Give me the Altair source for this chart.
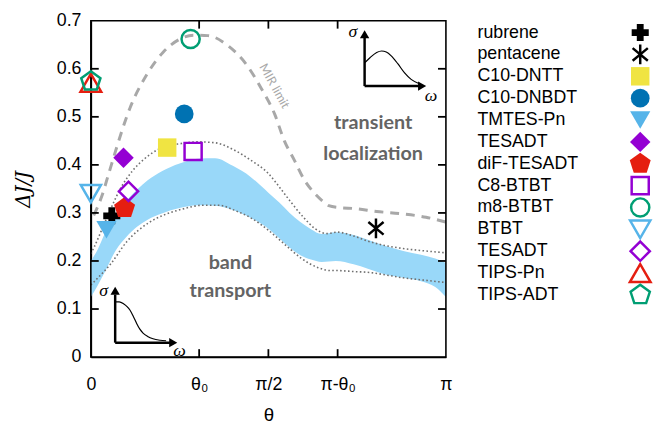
import altair as alt
import pandas as pd

# ---------------- axes (x is theta in units of pi) ----------------
x_tick_values = [0.0, 0.305, 0.5, 0.695, 1.0]
x_tick_labels = ["0", "θ₀", "π/2", "π-θ₀", "π"]
y_tick_values = [0.0, 0.1, 0.2, 0.3, 0.4, 0.5, 0.6, 0.7]
X_MIN, X_MAX, Y_MIN, Y_MAX = 0.0, 1.0, 0.0, 0.7

# ---------------- shaded band ----------------
band_t = [0.0, 0.02, 0.04, 0.07, 0.1, 0.13, 0.16, 0.2, 0.25, 0.3, 0.35, 0.4, 0.45, 0.5,
          0.53, 0.56, 0.59, 0.62, 0.65, 0.69, 0.74, 0.78, 0.83, 0.88, 0.93, 0.97, 1.0]
band_hi = [0.200, 0.225, 0.258, 0.295, 0.325, 0.348, 0.368, 0.387, 0.403, 0.413, 0.414, 0.398,
           0.375, 0.342, 0.322, 0.300, 0.281, 0.266, 0.256, 0.260, 0.254, 0.244, 0.231, 0.221,
           0.213, 0.205, 0.196]
band_lo = [0.125, 0.150, 0.178, 0.222, 0.250, 0.271, 0.286, 0.299, 0.310, 0.316, 0.315, 0.306,
           0.290, 0.267, 0.248, 0.228, 0.212, 0.203, 0.198, 0.200, 0.193, 0.184, 0.172, 0.165,
           0.158, 0.146, 0.125]

# ---------------- dotted bounds ----------------
dot_hi_t = [0.0, 0.01, 0.036, 0.06, 0.082, 0.119, 0.15, 0.184, 0.22, 0.25, 0.3, 0.35, 0.406,
            0.45, 0.5, 0.536, 0.564, 0.6, 0.63, 0.666, 0.694, 0.74, 0.786, 0.83, 0.879, 0.94, 1.0]
dot_hi_v = [0.215, 0.230, 0.274, 0.315, 0.349, 0.389, 0.412, 0.430, 0.440, 0.444, 0.448, 0.446,
            0.430, 0.410, 0.382, 0.349, 0.322, 0.290, 0.268, 0.257, 0.260, 0.252, 0.240, 0.232,
            0.226, 0.221, 0.217]
dot_lo_t = [0.0, 0.02, 0.055, 0.101, 0.166, 0.21, 0.258, 0.314, 0.36, 0.406, 0.45, 0.5, 0.55,
            0.592, 0.64, 0.675, 0.694, 0.74, 0.786, 0.83, 0.879, 0.94, 1.0]
dot_lo_v = [0.150, 0.165, 0.193, 0.240, 0.281, 0.297, 0.308, 0.316, 0.316, 0.305, 0.290, 0.264,
            0.232, 0.206, 0.186, 0.180, 0.180, 0.178, 0.176, 0.171, 0.165, 0.160, 0.155]

# ---------------- MIR limit (dashed) ----------------
mir_t = [0.008, 0.031, 0.05, 0.073, 0.11, 0.156, 0.203, 0.249, 0.29, 0.33, 0.388, 0.434, 0.48,
         0.518, 0.545, 0.573, 0.601, 0.625, 0.652, 0.67, 0.7, 0.744, 0.805, 0.879, 0.944, 1.0]
mir_v = [0.295, 0.335, 0.381, 0.437, 0.518, 0.586, 0.634, 0.661, 0.670, 0.669, 0.647, 0.613,
         0.559, 0.505, 0.450, 0.410, 0.369, 0.345, 0.325, 0.315, 0.311, 0.309, 0.303, 0.298,
         0.291, 0.281]

# ---------------- materials ----------------
names = ["rubrene", "pentacene", "C10-DNTT", "C10-DNBDT", "TMTES-Pn", "TESADT", "diF-TESADT",
         "C8-BTBT", "m8-BTBT", "BTBT", "TESADT", "TIPS-Pn", "TIPS-ADT"]
mat_t = [0.059, 0.803, 0.215, 0.263, 0.044, 0.092, 0.095, 0.288, 0.281, 0.0, 0.106, 0.0, 0.0]
mat_v = [0.294, 0.268, 0.436, 0.506, 0.265, 0.415, 0.310, 0.428, 0.662, 0.340, 0.345, 0.571, 0.574]

# ---------------- marker styles ----------------
PURPLE, GREEN, SKY, BLUE, YELLOW, RED = "#9400d3", "#009e73", "#56b4e9", "#0072b2", "#f0e442", "#e51e10"
PENT = "M0,-1L0.951,-0.309L0.588,0.809L-0.588,0.809L-0.951,-0.309Z"
AST = "M0,-1L0,1M-0.77,-0.64L0.77,0.64M-0.77,0.64L0.77,-0.64"
m_shape = ["cross", AST, "square", "circle", "triangle-down", "diamond", PENT,
           "square", "circle", "triangle-down", "diamond", "triangle-up", PENT]
m_color = ["black", "black", YELLOW, BLUE, SKY, PURPLE, RED, PURPLE, GREEN, SKY, PURPLE, RED, GREEN]
m_filled = [True, False, True, True, True, True, True, False, False, False, False, False, False]
m_size = [300, 400, 350, 360, 420, 430, 500, 300, 340, 420, 380, 440, 420]

# ---------------- annotations ----------------
region_text = ["transient", "localization", "band", "transport"]
region_t = [0.795, 0.795, 0.393, 0.393]
region_v = [0.488, 0.423, 0.196, 0.138]

# insets: sketch axes (segments) and curves, placed in data units
inset_axis_seg = ["a", "a", "b", "b", "c", "c", "d", "d"]
inset_axis_t = [0.771, 0.771, 0.771, 0.924, 0.0685, 0.0685, 0.0685, 0.224]
inset_axis_v = [0.564, 0.665, 0.564, 0.564, 0.030, 0.130, 0.030, 0.030]
arrow_t = [0.771, 0.933, 0.0685, 0.232]
arrow_v = [0.672, 0.564, 0.138, 0.030]
arrow_shape = ["triangle-up", "triangle-right", "triangle-up", "triangle-right"]
curve1_t = [0.772, 0.786, 0.805, 0.819, 0.832, 0.846, 0.865, 0.883, 0.902, 0.925]
curve1_v = [0.613, 0.623, 0.634, 0.637, 0.635, 0.627, 0.610, 0.592, 0.578, 0.569]
curve2_t = [0.0685, 0.08, 0.092, 0.102, 0.11, 0.12, 0.129, 0.138, 0.147, 0.16, 0.175, 0.195, 0.212]
curve2_v = [0.115, 0.115, 0.111, 0.105, 0.098, 0.084, 0.070, 0.058, 0.050, 0.043, 0.038, 0.035, 0.034]
greek_text = ["σ", "ω", "σ", "ω"]
greek_t = [0.738, 0.958, 0.036, 0.25]
greek_v = [0.676, 0.543, 0.138, 0.012]

W, H = 360, 341
TICK_PX = 8

# ---------------- build tables ----------------
x_label_expr = "'" + x_tick_labels[-1] + "'"
for val, lab in reversed(list(zip(x_tick_values[:-1], x_tick_labels[:-1]))):
    x_label_expr = f"abs(datum.value - {val}) < 0.01 ? '{lab}' : " + x_label_expr

band_df = pd.DataFrame({"t": band_t, "v": band_hi, "v2": band_lo})
dot_df = pd.concat([
    pd.DataFrame({"t": dot_hi_t, "v": dot_hi_v, "curve": "hi"}),
    pd.DataFrame({"t": dot_lo_t, "v": dot_lo_v, "curve": "lo"}),
])
mir_df = pd.DataFrame({"t": mir_t, "v": mir_v})

m_fill = [c if f else "transparent" for c, f in zip(m_color, m_filled)]
m_sw = [0 if f else 2.5 for f in m_filled]
mat_df = pd.DataFrame({"name": names, "t": mat_t, "v": mat_v, "shape": m_shape,
                       "fill": m_fill, "stroke": m_color, "sw": m_sw, "size": m_size,
                       "row": list(range(len(names)))})

# inward ticks as short segments (built from the tick lists)
dv = TICK_PX / H * (Y_MAX - Y_MIN)
dt = TICK_PX / W * (X_MAX - X_MIN)
tick_rows = []
for i, xv in enumerate(x_tick_values[1:-1]):
    tick_rows += [{"t": xv, "v": Y_MIN, "tk": f"b{i}", "o": 0}, {"t": xv, "v": Y_MIN + dv, "tk": f"b{i}", "o": 1},
                  {"t": xv, "v": Y_MAX, "tk": f"u{i}", "o": 0}, {"t": xv, "v": Y_MAX - dv, "tk": f"u{i}", "o": 1}]
for i, yv in enumerate(y_tick_values[1:-1]):
    tick_rows += [{"t": X_MIN, "v": yv, "tk": f"l{i}", "o": 0}, {"t": X_MIN + dt, "v": yv, "tk": f"l{i}", "o": 1},
                  {"t": X_MAX, "v": yv, "tk": f"r{i}", "o": 0}, {"t": X_MAX - dt, "v": yv, "tk": f"r{i}", "o": 1}]
tick_df = pd.DataFrame(tick_rows)

X = alt.X("t:Q", scale=alt.Scale(domain=[X_MIN, X_MAX], nice=False, zero=False),
          axis=alt.Axis(values=x_tick_values, labelExpr=x_label_expr, title="θ",
                        labelPadding=19, titlePadding=12, titleFont="Liberation Sans",
                        titleFontSize=19, titleFontWeight="normal", labelFlush=False,
                        labelOverlap=False, domain=True, domainColor="black", domainWidth=1.6))
Y = alt.Y("v:Q", scale=alt.Scale(domain=[Y_MIN, Y_MAX], nice=False, zero=False),
          axis=alt.Axis(values=y_tick_values,
                        labelExpr="datum.value == 0 ? '0' : format(datum.value, '.1f')",
                        title="ΔJ/J", titleFont="DejaVu Serif", titleFontStyle="italic",
                        titleFontSize=20, titleFontWeight="normal", labelPadding=10,
                        titlePadding=23, labelFlush=False, labelOverlap=False,
                        domain=True, domainColor="black", domainWidth=1.6))

band = alt.Chart(band_df).mark_area(color="#99d8f9", interpolate="monotone").encode(
    x=X, y=Y, y2="v2:Q")
dots = alt.Chart(dot_df).mark_line(color="#707070", strokeWidth=1.6, strokeDash=[1.6, 2.4],
                                   interpolate="monotone").encode(x=X, y=Y, detail="curve:N")
mir = alt.Chart(mir_df).mark_line(color="#a8a8a8", strokeWidth=3, strokeDash=[9, 7],
                                  interpolate="monotone").encode(x=X, y=Y)
mir_label = alt.Chart(pd.DataFrame({"t": [0.517], "v": [0.564], "txt": ["MIR limit"]})).mark_text(
    angle=61, font="Lato", fontSize=12.5, color="#a8a8a8").encode(x=X, y=Y, text="txt:N")

regions = alt.Chart(pd.DataFrame({"t": region_t, "v": region_v, "txt": region_text})).mark_text(
    font="Lato", fontWeight="bold", fontSize=20, color="#646464").encode(x=X, y=Y, text="txt:N")

frame_box = alt.Chart(pd.DataFrame({"t": [X_MIN], "t2": [X_MAX], "v": [Y_MIN], "v2": [Y_MAX]})).mark_rect(
    fill="transparent", stroke="black", strokeWidth=1.6).encode(x=X, x2="t2:Q", y=Y, y2="v2:Q")

tick_marks = alt.Chart(tick_df).mark_line(color="black", strokeWidth=1.8, strokeCap="butt").encode(
    x=X, y=Y, detail="tk:N", order="o:Q")

inset_axes = alt.Chart(pd.DataFrame({"t": inset_axis_t, "v": inset_axis_v, "seg": inset_axis_seg,
                                     "k": list(range(len(inset_axis_t)))})).mark_line(
    color="black", strokeWidth=2.5, strokeCap="butt").encode(
    x=X, y=Y, detail="seg:N", order="k:Q")
inset_arrows = alt.Chart(pd.DataFrame({"t": arrow_t, "v": arrow_v, "shape": arrow_shape})).mark_point(
    filled=True, color="black", opacity=1, size=90).encode(
    x=X, y=Y, shape=alt.Shape("shape:N", scale=None))
inset_curves = alt.Chart(pd.concat([
    pd.DataFrame({"t": curve1_t, "v": curve1_v, "c": "1"}),
    pd.DataFrame({"t": curve2_t, "v": curve2_v, "c": "2"}),
])).mark_line(color="black", strokeWidth=1.2, interpolate="monotone").encode(
    x=X, y=Y, detail="c:N")
greek = alt.Chart(pd.DataFrame({"t": greek_t, "v": greek_v, "txt": greek_text})).mark_text(
    font="Liberation Serif", fontStyle="italic", fontSize=18, color="black").encode(
    x=X, y=Y, text="txt:N")

points = alt.Chart(mat_df).mark_point(opacity=1).encode(
    x=X, y=Y,
    shape=alt.Shape("shape:N", scale=None),
    fill=alt.Fill("fill:N", scale=None),
    stroke=alt.Stroke("stroke:N", scale=None),
    strokeWidth=alt.StrokeWidth("sw:Q", scale=None),
    size=alt.Size("size:Q", scale=None),
)

main = alt.layer(band, dots, mir, frame_box, tick_marks, mir_label, regions, inset_axes,
                 inset_curves, inset_arrows, greek, points).properties(width=W, height=H)

# ---------------- legend panel ----------------
LY = alt.Y("row:Q", scale=alt.Scale(domain=[0, len(names) - 1], range=[12, 278]), axis=None)
leg_text = alt.Chart(mat_df).mark_text(align="left", baseline="middle", font="Liberation Sans",
                                       fontSize=18, color="black").encode(
    x=alt.value(0), y=LY, text="name:N")
leg_pts = alt.Chart(mat_df).mark_point(opacity=1).encode(
    x=alt.value(165), y=LY,
    shape=alt.Shape("shape:N", scale=None),
    fill=alt.Fill("fill:N", scale=None),
    stroke=alt.Stroke("stroke:N", scale=None),
    strokeWidth=alt.StrokeWidth("sw:Q", scale=None),
    size=alt.Size("size:Q", scale=None),
)
legend = alt.layer(leg_text, leg_pts).properties(width=166, height=H)

chart = alt.hconcat(main, legend, spacing=32, bounds="flush").resolve_scale(
    x="independent", y="independent"
).properties(
    padding={"left": 5, "right": 0, "top": 0, "bottom": 0}
).configure_view(stroke="transparent").configure_axis(
    labelFont="Liberation Sans", labelFontSize=18, labelColor="black", titleColor="black",
    grid=False, ticks=False, tickSize=0
)

chart.save("out.html", embed_options={"renderer": "svg", "actions": False})
